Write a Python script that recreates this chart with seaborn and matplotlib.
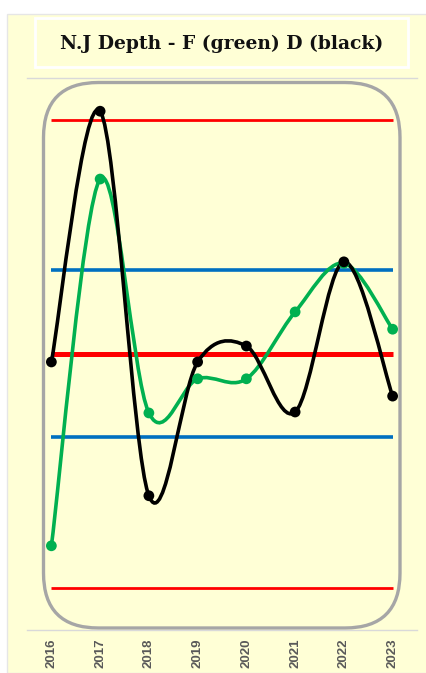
import numpy as np
import pandas as pd
import matplotlib
matplotlib.use("Agg")
import matplotlib.pyplot as plt
import seaborn as sns
from matplotlib.path import Path
from matplotlib.patches import PathPatch, FancyBboxPatch, Rectangle

# dados
anos = [2016, 2017, 2018, 2019, 2020, 2021, 2022, 2023]
depth_f = [9.0, 87.4, 37.4, 44.7, 44.7, 59.0, 69.4, 55.3]   # verde
depth_d = [48.3, 101.9, 19.7, 48.3, 51.7, 37.6, 69.7, 41.0]  # preto
linha_central = 50.0
sigma_sup = 68.0
sigma_inf = 32.3
lim_sup = 100.0
lim_inf = 0.0

titulo = "N.J Depth - F (green) D (black)"

creme = "#FFFFD6"
sns.set_style("white")
plt.rcParams['font.family'] = ['Liberation Sans', 'DejaVu Sans']

fig = plt.figure(figsize=(4.26, 6.73), dpi=100)
fig.patch.set_facecolor("white")
fig.patches.append(Rectangle((0.07, 0.0), 4.3, 6.59, transform=fig.dpi_scale_trans,
                             facecolor=creme, edgecolor="#E6E6E6", lw=1, zorder=-10))
fig.patches.append(Rectangle((0.35, 6.06), 3.73, 0.49, transform=fig.dpi_scale_trans,
                             facecolor=creme, edgecolor="white", lw=2, zorder=-5))
fig.text(0.521, 0.935, titulo, ha="center", va="center", fontsize=13.5, fontweight="bold",
         family=["DejaVu Serif"], color="#111111")

ax = fig.add_axes([27 / 426, 43 / 673, 390 / 426, 552 / 673])
ax.set_facecolor("none")

# moldura arredondada
frame = FancyBboxPatch((0.435, 0.45), 3.565, 5.455, boxstyle="round,pad=0,rounding_size=0.55",
                       transform=fig.dpi_scale_trans, facecolor="none", edgecolor="#A6A6A6",
                       lw=2.4, clip_on=False, zorder=1)
ax.add_patch(frame)

# linhas de controle
ax.hlines([lim_sup, lim_inf], anos[0], anos[-1], color="#FF0000", lw=2.0, zorder=2)
ax.hlines([sigma_sup, sigma_inf], anos[0], anos[-1], color="#0070C0", lw=2.6, zorder=2)
ax.hlines([linha_central], anos[0], anos[-1], color="#FF0000", lw=3.6, zorder=2)


def curva_suave(xs, ys):
    pts = np.column_stack([xs, ys]).astype(float)
    n = len(pts)
    verts = [pts[0]]
    codes = [Path.MOVETO]
    for i in range(n - 1):
        p0 = pts[max(i - 1, 0)]
        p1 = pts[i]
        p2 = pts[i + 1]
        p3 = pts[min(i + 2, n - 1)]
        verts += [p1 + (p2 - p0) / 6, p2 - (p3 - p1) / 6, p2]
        codes += [Path.CURVE4] * 3
    return Path(verts, codes)


ax.add_patch(PathPatch(curva_suave(anos, depth_f), facecolor="none", edgecolor="#00B050", lw=2.6, zorder=3))
ax.add_patch(PathPatch(curva_suave(anos, depth_d), facecolor="none", edgecolor="black", lw=2.6, zorder=4))

df = pd.DataFrame({"ano": anos, "F": depth_f, "D": depth_d})
sns.scatterplot(data=df, x="ano", y="F", color="#00B050", s=60, edgecolor="none", zorder=5, ax=ax)
sns.scatterplot(data=df, x="ano", y="D", color="black", s=60, edgecolor="none", zorder=6, ax=ax)

ax.set_xlim(2015.5, 2023.5)
ax.set_ylim(-9, 109)
ax.set_xticks(anos)
ax.set_xticklabels([str(a) for a in anos], rotation=90, fontsize=9.5, fontweight="bold", color="#595959")
ax.set_yticks([])
ax.set_xlabel("")
ax.set_ylabel("")
ax.tick_params(axis="x", length=0, pad=6)
for lado in ["left", "right"]:
    ax.spines[lado].set_visible(False)
for lado in ["top", "bottom"]:
    ax.spines[lado].set_color("#D9D9D9")
    ax.spines[lado].set_linewidth(1)

fig.savefig("out.png", dpi=100)
